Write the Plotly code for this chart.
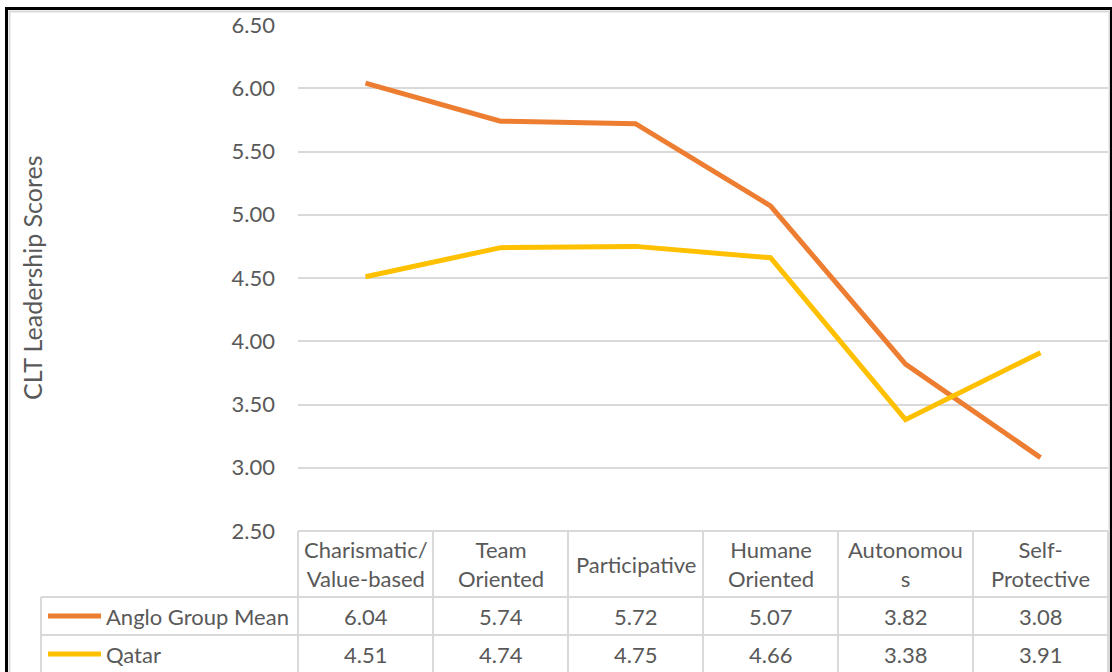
import plotly.graph_objects as go

# Leadership dimensions (header labels, with the wraps used in the table)
categories = ["Charismatic/<br>Value-based", "Team<br>Oriented", "Participative",
              "Humane<br>Oriented", "Autonomou<br>s", "Self-<br>Protective"]
series_names = ["Anglo Group Mean", "Qatar"]
anglo_scores = [6.04, 5.74, 5.72, 5.07, 3.82, 3.08]
qatar_scores = [4.51, 4.74, 4.75, 4.66, 3.38, 3.91]
y_ticks = [2.5, 3.0, 3.5, 4.0, 4.5, 5.0, 5.5, 6.0, 6.5]

colors = ["#ED7D31", "#FFC000"]
text_color = "#595959"
grid_color = "#D9D9D9"
font_family = "Lato, 'Open Sans', sans-serif"
fsize = 22

W, H = 1112, 672
L, R, T, B = 298, 1108, 25, 531  # plot area in pixels

def px(x):
    return (x - L) / (R - L)

def py(y):
    return (B - y) / (B - T)

fig = go.Figure()
xs = list(range(len(categories)))
for name, vals, col in zip(series_names, [anglo_scores, qatar_scores], colors):
    fig.add_trace(go.Scatter(x=xs, y=vals, mode="lines", name=name,
                             line=dict(color=col, width=5), showlegend=False,
                             hoverinfo="skip"))

shapes = []
annotations = []

# data table grid
col_w = (R - L) / len(categories)
row_top, row1, row2, row_bot = 531, 597, 635, 700
line_style = dict(color=grid_color, width=2)
for i in range(len(categories) + 1):
    x = L + i * col_w
    shapes.append(dict(type="line", xref="paper", yref="paper",
                       x0=px(x), x1=px(x), y0=py(row_top), y1=py(row_bot), line=line_style))
shapes.append(dict(type="line", xref="paper", yref="paper",
                   x0=px(41), x1=px(41), y0=py(row1), y1=py(row_bot), line=line_style))
for yy in (row1, row2):
    shapes.append(dict(type="line", xref="paper", yref="paper",
                       x0=px(41), x1=px(R), y0=py(yy), y1=py(yy), line=line_style))
shapes.append(dict(type="line", xref="paper", yref="paper",
                   x0=px(L), x1=px(R), y0=py(row_top), y1=py(row_top), line=line_style))

# header labels
for i, c in enumerate(categories):
    annotations.append(dict(x=px(L + (i + 0.5) * col_w), y=py(564), xref="paper", yref="paper",
                            text=c, showarrow=False, xanchor="center", yanchor="middle",
                            font=dict(size=fsize, color=text_color, family=font_family)))

# table rows with legend keys
for r, (name, vals, col, yc) in enumerate(zip(series_names, [anglo_scores, qatar_scores],
                                               colors, [616, 654])):
    shapes.append(dict(type="line", xref="paper", yref="paper",
                       x0=px(48), x1=px(101), y0=py(yc), y1=py(yc),
                       line=dict(color=col, width=5)))
    annotations.append(dict(x=px(104), y=py(yc), xref="paper", yref="paper",
                            text=name, showarrow=False, xanchor="left", yanchor="middle",
                            font=dict(size=fsize, color=text_color, family=font_family)))
    for i, v in enumerate(vals):
        annotations.append(dict(x=px(L + (i + 0.5) * col_w), y=py(yc), xref="paper", yref="paper",
                                text=f"{v:.2f}", showarrow=False, xanchor="center",
                                yanchor="middle",
                                font=dict(size=fsize, color=text_color, family=font_family)))

# axis title
annotations.append(dict(x=px(32), y=py(278), xref="paper", yref="paper",
                        text="CLT Leadership Scores", showarrow=False, textangle=-90,
                        xanchor="center", yanchor="middle",
                        font=dict(size=25, color=text_color, family=font_family)))

# chart frame
shapes.append(dict(type="rect", xref="paper", yref="paper",
                   x0=px(9.5), x1=px(1109.5), y0=py(720), y1=py(11.5),
                   line=dict(color=grid_color, width=2)))
shapes.append(dict(type="rect", xref="paper", yref="paper",
                   x0=px(6.5), x1=px(1111.5), y0=py(730), y1=py(8.5),
                   line=dict(color="#000000", width=3)))

fig.update_layout(
    width=W, height=H,
    margin=dict(l=L, r=W - R, t=T, b=H - B),
    paper_bgcolor="white", plot_bgcolor="white",
    shapes=shapes, annotations=annotations,
    xaxis=dict(range=[-0.5, len(categories) - 0.5], showgrid=False, showticklabels=False,
               zeroline=False, showline=False, fixedrange=True),
    yaxis=dict(range=[2.5, 6.5], tickvals=y_ticks, tickformat=".2f",
               showgrid=True, gridcolor=grid_color, gridwidth=2, zeroline=False,
               showline=False, ticks="", ticklabelstandoff=22,
               tickfont=dict(size=fsize, color=text_color, family=font_family)),
)

fig.write_html("out.html")
